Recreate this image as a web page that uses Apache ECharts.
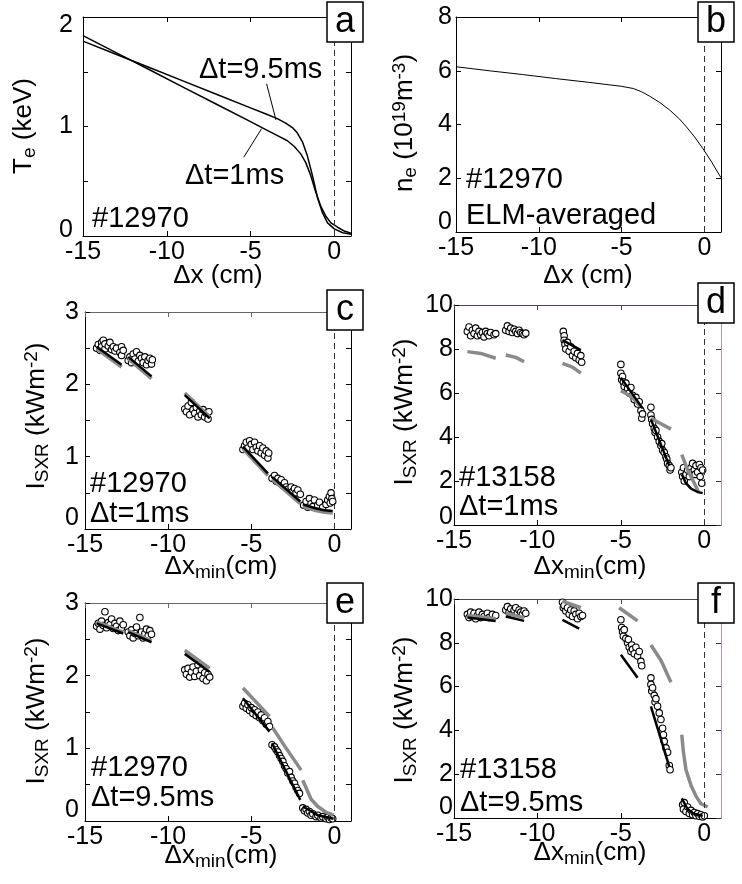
<!DOCTYPE html>
<html>
<head>
<meta charset="utf-8">
<script src="https://cdn.jsdelivr.net/npm/echarts@6/dist/echarts.min.js"></script>
<style>
html, body { margin: 0; padding: 0; background: #fff; }
#chart { width: 742px; height: 884px; }
</style>
</head>
<body>
<div id="chart"></div>
<script>
// tick labels
var xTickLabels = [-15, -10, -5, 0];
var yLabelsTe = [0, 1, 2];
var yLabelsNe = [0, 2, 4, 6, 8];
var yLabelsI3 = [0, 1, 2, 3];
var yLabelsI10 = [0, 2, 4, 6, 8, 10];

// panel a: Te profiles
var teX95 = [-15, -13, -11, -9, -7, -5, -4, -3.4, -2.9, -2.5, -2.2, -1.9, -1.6, -1.3, -1.0, -0.7, -0.4, 0, 0.5, 1];
var te95 = [1.78, 1.658, 1.536, 1.414, 1.292, 1.17, 1.109, 1.072, 1.03, 0.99, 0.94, 0.86, 0.73, 0.55, 0.35, 0.21, 0.12, 0.065, 0.03, 0.015];
var teX1 = [-15, -13, -11, -9, -7, -5, -4, -3.3, -2.8, -2.4, -2.0, -1.7, -1.4, -1.1, -0.8, -0.5, -0.2, 0.2, 0.6, 1.0];
var te1 = [1.83, 1.673, 1.516, 1.358, 1.201, 1.044, 0.965, 0.91, 0.87, 0.82, 0.75, 0.67, 0.55, 0.40, 0.27, 0.18, 0.12, 0.08, 0.045, 0.025];
var leader95 = [[-4.04, 1.39], [-3.48, 1.06]];
var leader1 = [[-5.4, 0.72], [-4.34, 0.98]];

// panel b: ne profile
var neX = [-15, -13, -11, -9, -7, -5, -4.3, -3.8, -3.3, -2.7, -2.1, -1.5, -1.1, -0.6, -0.1, 0.4, 0.9, 1.0];
var ne = [6.15, 6.00, 5.86, 5.71, 5.57, 5.42, 5.34, 5.22, 5.05, 4.82, 4.54, 4.20, 3.92, 3.54, 3.11, 2.64, 2.12, 2.02];

// panel c: #12970, dt=1ms
var c_pts = [
  [-14.3,2.50],[-14.2,2.55],[-14.1,2.47],[-14.0,2.58],[-14.0,2.52],[-13.9,2.61],[-13.8,2.49],[-13.8,2.56],[-13.6,2.53],[-13.5,2.58],[-13.4,2.48],[-13.3,2.52],[-13.2,2.46],[-13.1,2.50],[-12.9,2.44],[-12.8,2.52],[-12.8,2.40],[-12.7,2.47],
  [-12.4,2.33],[-12.3,2.38],[-12.2,2.30],[-12.1,2.42],[-12.0,2.35],[-11.9,2.45],[-11.8,2.32],[-11.7,2.40],[-11.6,2.36],[-11.5,2.30],[-11.4,2.38],[-11.3,2.27],[-11.2,2.33],[-11.1,2.36],[-11.0,2.28],[-10.95,2.34],
  [-9.0,1.66],[-8.9,1.62],[-8.8,1.70],[-8.7,1.58],[-8.6,1.75],[-8.5,1.65],[-8.4,1.60],[-8.3,1.68],[-8.2,1.55],[-8.1,1.63],[-8.0,1.58],[-7.9,1.65],[-7.8,1.55],[-7.7,1.60],[-7.6,1.52],[-7.55,1.62],
  [-5.5,1.10],[-5.4,1.15],[-5.3,1.20],[-5.2,1.12],[-5.1,1.22],[-5.0,1.17],[-4.9,1.10],[-4.8,1.20],[-4.7,1.13],[-4.6,1.08],[-4.5,1.15],[-4.4,1.05],[-4.3,1.12],[-4.2,1.02],[-4.1,1.08],[-4.0,0.98],[-3.95,1.05],
  [-3.75,0.70],[-3.6,0.74],[-3.5,0.66],[-3.4,0.70],[-3.3,0.64],[-3.2,0.68],[-3.1,0.60],[-3.0,0.64],[-2.9,0.58],[-2.8,0.55],[-2.6,0.58],[-2.5,0.52],[-2.4,0.56],[-2.3,0.50],[-2.2,0.54],[-2.05,0.48],
  [-1.85,0.33],[-1.7,0.38],[-1.6,0.30],[-1.5,0.42],[-1.4,0.35],[-1.3,0.31],[-1.2,0.40],[-1.0,0.33],[-0.9,0.37],[-0.7,0.30],[-0.5,0.34],[-0.4,0.40],[-0.3,0.45],[-0.25,0.36],[-0.2,0.50],[-0.15,0.42],[-0.1,0.38]
];
var c_black = [
  [[-14.3,2.52],[-12.8,2.27]],
  [[-12.4,2.38],[-11.0,2.11]],
  [[-9.0,1.85],[-7.5,1.53]],
  [[-5.5,1.14],[-4.0,0.77]],
  [[-3.75,0.72],[-2.05,0.38]],
  [[-1.9,0.34],[-1.2,0.29],[-0.6,0.26],[-0.1,0.25]]
];
var c_gray = [
  [[-14.3,2.49],[-12.8,2.24]],
  [[-12.4,2.35],[-11.0,2.08]],
  [[-9.0,1.88],[-7.5,1.55]],
  [[-5.5,1.11],[-4.0,0.74]],
  [[-3.75,0.69],[-2.05,0.35]],
  [[-1.9,0.31],[-1.2,0.26],[-0.6,0.23],[-0.1,0.22]]
];

// panel d: #13158, dt=1ms
var d_pts = [
  [-14.2,8.8],[-14.1,9.0],[-14.0,8.6],[-13.9,8.85],[-13.8,8.7],[-13.7,8.95],[-13.6,8.6],[-13.5,8.8],[-13.4,8.65],[-13.3,8.75],[-13.2,8.55],[-13.1,8.8],[-13.0,8.7],[-12.9,8.6],[-12.8,8.75],[-12.6,8.65],[-12.5,8.7],
  [-11.9,8.85],[-11.8,9.05],[-11.7,8.8],[-11.6,8.95],[-11.5,8.75],[-11.4,8.9],[-11.3,8.8],[-11.2,8.7],[-11.1,8.85],[-11.0,8.75],[-10.9,8.7],[-10.8,8.65],[-10.7,8.72],
  [-8.45,8.8],[-8.4,8.6],[-8.4,8.4],[-8.35,8.2],[-8.3,8.0],[-8.2,8.3],[-8.1,7.9],[-8.0,8.1],[-7.9,7.7],[-7.8,7.9],[-7.7,7.6],[-7.6,7.8],[-7.5,7.5],[-7.4,7.7],[-7.35,7.4],
  [-5.0,7.3],[-5.0,6.9],[-4.95,6.6],[-4.9,6.75],[-4.85,6.5],[-4.8,6.3],[-4.7,6.45],[-4.6,6.2],[-4.5,6.0],[-4.4,6.25],[-4.3,5.9],[-4.2,5.7],[-4.1,5.8],[-4.0,5.5],[-3.9,5.6],[-3.8,5.2],[-3.75,4.85],[-3.7,5.05],
  [-3.2,5.35],[-3.2,5.0],[-3.15,4.8],[-3.1,4.6],[-3.0,4.4],[-2.95,4.2],[-2.9,4.3],[-2.8,4.0],[-2.7,3.8],[-2.6,3.6],[-2.55,3.7],[-2.5,3.4],[-2.4,3.3],[-2.3,3.1],[-2.25,3.0],[-2.2,2.8],[-2.1,2.7],[-2.05,2.5],[-2.0,2.6],
  [-1.35,2.4],[-1.3,2.2],[-1.25,2.6],[-1.2,2.0],[-1.1,2.3],[-1.0,2.5],[-0.9,2.2],[-0.8,2.6],[-0.75,2.4],[-0.7,2.8],[-0.6,2.5],[-0.55,2.3],[-0.5,2.7],[-0.4,2.4],[-0.3,2.75],[-0.25,2.2],[-0.2,2.6],[-0.15,1.9],[-0.1,2.5]
];
var d_black = [
  [[-8.5,8.4],[-7.4,7.95]],
  [[-5.0,6.7],[-3.7,5.3]],
  [[-3.2,4.8],[-2.1,2.7]],
  [[-1.35,2.3],[-1.1,1.9],[-0.8,1.65],[-0.4,1.5],[-0.1,1.45]]
];
var d_gray = [
  [[-14.2,7.88],[-13.3,7.78],[-12.5,7.58]],
  [[-11.9,7.73],[-11.3,7.62],[-10.8,7.42]],
  [[-8.5,7.35],[-7.9,7.18],[-7.4,6.9]],
  [[-5.0,6.1],[-4.4,5.85],[-3.8,5.4]],
  [[-3.2,4.85],[-2.6,4.6],[-2.0,4.36]],
  [[-1.35,3.2],[-1.0,2.5],[-0.6,1.9],[-0.35,1.5]]
];

// panel e: #12970, dt=9.5ms
var e_pts = [
  [-14.3,2.68],[-14.2,2.72],[-14.1,2.64],[-14.0,2.75],[-13.9,2.69],[-13.8,2.88],[-13.7,2.66],[-13.6,2.73],[-13.5,2.70],[-13.4,2.78],[-13.3,2.65],[-13.2,2.72],[-13.1,2.68],[-13.0,2.62],[-12.9,2.75],[-12.8,2.66],[-12.7,2.70],
  [-12.4,2.60],[-12.3,2.55],[-12.2,2.63],[-12.1,2.52],[-12.0,2.58],[-11.9,2.67],[-11.8,2.55],[-11.7,2.80],[-11.6,2.60],[-11.5,2.52],[-11.4,2.58],[-11.3,2.64],[-11.2,2.55],[-11.1,2.62],[-11.0,2.57],
  [-9.0,2.08],[-8.9,2.02],[-8.8,2.10],[-8.7,1.98],[-8.6,2.05],[-8.5,2.12],[-8.4,1.99],[-8.3,2.06],[-8.2,2.15],[-8.1,2.00],[-8.0,2.08],[-7.9,1.96],[-7.8,2.04],[-7.7,1.93],[-7.6,2.02],[-7.5,1.98],
  [-5.5,1.58],[-5.4,1.62],[-5.3,1.55],[-5.2,1.60],[-5.1,1.52],[-5.0,1.56],[-4.9,1.48],[-4.8,1.53],[-4.7,1.45],[-4.6,1.50],[-4.5,1.42],[-4.4,1.46],[-4.3,1.38],[-4.2,1.42],[-4.1,1.33],[-4.0,1.37],[-3.9,1.30],
  [-3.75,1.05],[-3.6,1.02],[-3.5,0.98],[-3.4,0.95],[-3.3,0.90],[-3.2,0.86],[-3.1,0.82],[-3.0,0.76],[-2.9,0.72],[-2.8,0.66],[-2.7,0.68],[-2.6,0.60],[-2.5,0.55],[-2.4,0.52],[-2.3,0.46],[-2.2,0.42],[-2.1,0.38],
  [-1.9,0.18],[-1.8,0.14],[-1.7,0.16],[-1.6,0.11],[-1.5,0.13],[-1.4,0.08],[-1.3,0.10],[-1.1,0.06],[-1.0,0.08],[-0.8,0.04],[-0.7,0.06],[-0.5,0.03],[-0.4,0.05],[-0.3,0.02],[-0.2,0.04],[-0.1,0.03]
];
var e_black = [
  [[-14.3,2.72],[-12.7,2.58]],
  [[-12.4,2.60],[-11.0,2.46]],
  [[-9.0,2.30],[-7.5,2.05]],
  [[-5.5,1.69],[-3.9,1.23]],
  [[-3.75,1.07],[-2.05,0.29]],
  [[-1.9,0.20],[-1.0,0.08],[-0.05,0.03]]
];
var e_gray = [
  [[-14.3,2.74],[-12.7,2.60]],
  [[-12.4,2.62],[-11.0,2.48]],
  [[-9.0,2.35],[-7.5,2.10]],
  [[-5.5,1.83],[-3.9,1.44]],
  [[-3.7,1.28],[-2.9,1.0],[-2.0,0.70]],
  [[-1.9,0.56],[-1.4,0.30],[-1.0,0.20],[-0.5,0.12],[-0.05,0.08]]
];

// panel f: #13158, dt=9.5ms
var f_pts = [
  [-14.2,9.3],[-14.1,9.15],[-14.0,9.4],[-13.9,9.2],[-13.8,9.35],[-13.7,9.1],[-13.6,9.25],[-13.5,9.4],[-13.4,9.15],[-13.3,9.3],[-13.2,9.2],[-13.0,9.35],[-12.9,9.15],[-12.7,9.3],[-12.5,9.25],
  [-11.9,9.5],[-11.8,9.65],[-11.7,9.4],[-11.6,9.55],[-11.5,9.3],[-11.4,9.5],[-11.3,9.6],[-11.2,9.35],[-11.1,9.5],[-11.0,9.4],[-10.9,9.3],[-10.8,9.45],[-10.7,9.35],
  [-8.5,9.85],[-8.45,9.6],[-8.4,9.7],[-8.3,9.45],[-8.2,9.6],[-8.1,9.3],[-8.0,9.5],[-7.9,9.2],[-7.8,9.45],[-7.7,9.3],[-7.6,9.1],[-7.5,9.35],[-7.4,9.2],[-7.3,9.25],
  [-5.0,9.05],[-4.95,8.7],[-4.9,8.5],[-4.85,8.3],[-4.8,8.6],[-4.7,8.2],[-4.6,8.0],[-4.55,8.15],[-4.5,7.8],[-4.4,7.6],[-4.35,7.9],[-4.3,7.7],[-4.2,7.5],[-4.1,7.8],[-4.0,7.4],[-3.9,7.6],[-3.8,7.15],[-3.75,6.95],
  [-3.2,6.4],[-3.2,6.1],[-3.15,5.8],[-3.1,5.95],[-3.0,5.6],[-2.95,5.3],[-2.9,5.45],[-2.8,5.1],[-2.7,4.8],[-2.6,4.5],[-2.5,4.1],[-2.45,3.8],[-2.4,3.5],[-2.3,3.2],[-2.2,3.0],[-2.1,2.4],[-2.05,2.2],
  [-1.3,0.6],[-1.25,0.4],[-1.2,0.7],[-1.1,0.3],[-1.0,0.5],[-0.9,0.2],[-0.8,0.35],[-0.7,0.15],[-0.6,0.25],[-0.5,0.1],[-0.4,0.2],[-0.3,0.08],[-0.2,0.15],[-0.1,0.05],[0.0,0.1]
];
var f_black = [
  [[-14.2,9.15],[-12.5,9.0]],
  [[-11.9,9.2],[-10.8,9.0]],
  [[-8.5,9.05],[-7.5,8.65]],
  [[-5.0,7.45],[-4.0,6.4]],
  [[-3.2,5.1],[-2.1,2.35]],
  [[-1.35,0.9],[-1.0,0.4],[-0.6,0.18],[-0.1,0.1]]
];
var f_gray = [
  [[-14.2,9.25],[-12.5,9.1]],
  [[-11.9,9.35],[-10.8,9.15]],
  [[-8.5,9.9],[-7.4,9.6]],
  [[-5.1,9.6],[-4.0,9.0]],
  [[-3.2,7.9],[-2.6,7.2],[-2.0,6.2]],
  [[-1.35,3.8],[-1.25,3.0],[-1.1,2.2],[-0.8,1.5],[-0.5,1.0],[-0.2,0.65],[0.2,0.5]]
];

var FONT = '"Liberation Sans", Arial, Helvetica, sans-serif';

// layout of the six panels
var frames = [
  {left: 83, top: 17, width: 268, height: 219, ymax: 2, yint: 0.5, ylab: yLabelsTe, lm: 10, zs: 6, ts: 8, cTop: '#000', cRight: '#000', cRTick: '#000'},
  {left: 456, top: 17, width: 265, height: 215, ymax: 8, yint: 2, ylab: yLabelsNe, lm: 4, zs: 10, ts: 0, cTop: '#000', cRight: '#000', cRTick: '#000'},
  {left: 85, top: 312, width: 266, height: 217, ymax: 3, yint: 0.5, ylab: yLabelsI3, lm: 6, zs: 11, ts: 0, cTop: '#666', cRight: '#000', cRTick: '#000'},
  {left: 454, top: 305, width: 267, height: 220, ymax: 10, yint: 2, ylab: yLabelsI10, lm: 1, zs: 8, ts: 0, cTop: '#4d4060', cRight: '#a898bb', cRTick: '#3d2d55'},
  {left: 85, top: 603, width: 266, height: 218, ymax: 3, yint: 0.5, ylab: yLabelsI3, lm: 6, zs: 11, ts: 0, cTop: '#666', cRight: '#000', cRTick: '#000'},
  {left: 454, top: 599, width: 267, height: 219, ymax: 10, yint: 2, ylab: yLabelsI10, lm: 1, zs: 11, ts: 0, cTop: '#4d4060', cRight: '#a898bb', cRTick: '#3d2d55'}
];

var chart = echarts.init(document.getElementById('chart'));

var grids = [], xAxes = [], yAxes = [], series = [], graphics = [];

frames.forEach(function (f, i) {
  grids.push({left: f.left, top: f.top, width: f.width, height: f.height, containLabel: false, outerBoundsMode: 'none'});
  xAxes.push({
    gridIndex: i, type: 'value', position: 'bottom', min: -15, max: 1, interval: 5,
    axisLine: {show: true, onZero: false, lineStyle: {color: '#000', width: 1}},
    axisTick: {show: true, inside: true, length: 5, lineStyle: {color: '#000'}},
    axisLabel: {
      show: true, margin: 4, color: '#000', fontSize: 25, fontFamily: FONT,
      showMinLabel: true, showMaxLabel: false,
      formatter: function (v) { return xTickLabels.indexOf(v) >= 0 ? String(v) : ''; }
    },
    splitLine: {show: false}
  });
  xAxes.push({
    gridIndex: i, type: 'value', position: 'top', min: -15, max: 1, interval: 5,
    axisLine: {show: true, onZero: false, lineStyle: {color: f.cTop, width: 1}},
    axisTick: {show: true, inside: true, length: 5, lineStyle: {color: f.cTop}},
    axisLabel: {show: false}, splitLine: {show: false}
  });
  var rich = {
    z: {fontSize: 25, fontFamily: FONT, color: '#000', padding: [0, 0, 2 * f.zs, 0]},
    t: {fontSize: 25, fontFamily: FONT, color: '#000', padding: [2 * f.ts, 0, 0, 0]}
  };
  yAxes.push({
    gridIndex: i, type: 'value', position: 'left', min: 0, max: f.ymax, interval: f.yint,
    axisLine: {show: true, onZero: false, lineStyle: {color: '#000', width: 1}},
    axisTick: {show: true, inside: true, length: 5, lineStyle: {color: '#000'}},
    axisLabel: {
      show: true, margin: f.lm, color: '#000', fontSize: 25, fontFamily: FONT,
      showMinLabel: true, showMaxLabel: true, rich: rich,
      formatter: function (v) {
        if (f.ylab.indexOf(v) < 0) return '';
        if (v === 0) return '{z|0}';
        if (v === f.ymax && f.ts) return '{t|' + v + '}';
        return String(v);
      }
    },
    splitLine: {show: false}
  });
  yAxes.push({
    gridIndex: i, type: 'value', position: 'right', min: 0, max: f.ymax, interval: f.yint,
    axisLine: {show: true, onZero: false, lineStyle: {color: f.cRight, width: 1}},
    axisTick: {show: true, inside: true, length: 5, lineStyle: {color: f.cRTick}},
    axisLabel: {show: false}, splitLine: {show: false}
  });
});

var zeroLine = {
  silent: true, symbol: ['none', 'none'], animation: false,
  label: {show: false},
  lineStyle: {type: [6, 4], color: '#333', width: 1},
  data: [{xAxis: 0}]
};

function zip(xs, ys) {
  return xs.map(function (x, k) { return [x, ys[k]]; });
}

function curve(i, data, color, width, z) {
  return {
    type: 'line', xAxisIndex: 2 * i, yAxisIndex: 2 * i, data: data,
    showSymbol: false, symbol: 'none', smooth: false,
    lineStyle: {color: color, width: width, cap: 'butt', join: 'round'}, z: z, silent: true, animation: false
  };
}

// a
var sa = curve(0, zip(teX95, te95), '#000', 1.5, 3);
sa.markLine = zeroLine;
series.push(sa);
series.push(curve(0, zip(teX1, te1), '#000', 1.5, 3));
series.push(curve(0, leader95, '#000', 1, 3));
series.push(curve(0, leader1, '#000', 1, 3));

// b
var sb = curve(1, zip(neX, ne), '#000', 1, 3);
sb.markLine = zeroLine;
series.push(sb);

// c - f
[[c_pts, c_black, c_gray], [d_pts, d_black, d_gray], [e_pts, e_black, e_gray], [f_pts, f_black, f_gray]]
  .forEach(function (p, k) {
    var i = k + 2;
    series.push({
      type: 'scatter', xAxisIndex: 2 * i, yAxisIndex: 2 * i, data: p[0],
      symbol: 'circle', symbolSize: 6.5,
      itemStyle: {color: '#fff', borderColor: '#000', borderWidth: 1.1, opacity: 1},
      z: 2, silent: true, animation: false, markLine: zeroLine
    });
    p[2].forEach(function (seg) { series.push(curve(i, seg, '#8a8a8a', 3.5, 3)); });
    p[1].forEach(function (seg) { series.push(curve(i, seg, '#000', 2.5, 4)); });
  });

// text and letter boxes
var axisRich = {
  b: {fontSize: 26, fontFamily: FONT, lineHeight: 30, verticalAlign: 'middle', fill: '#000'},
  sub: {fontSize: 19, fontFamily: FONT, lineHeight: 14, verticalAlign: 'bottom', fill: '#000'},
  sup: {fontSize: 19, fontFamily: FONT, lineHeight: 14, verticalAlign: 'top', fill: '#000'}
};

function label(x, y, text, rot) {
  graphics.push({
    type: 'text', x: x, y: y, rotation: rot || 0, z: 50, silent: true,
    style: {text: text, rich: axisRich, fontSize: 26, fontFamily: FONT, fill: '#000',
      textAlign: 'center', textVerticalAlign: 'middle'}
  });
}

function note(x, y, text) {
  graphics.push({
    type: 'text', x: x, y: y, z: 50, silent: true,
    style: {text: text, fontSize: 29, fontFamily: FONT, fill: '#000',
      textAlign: 'left', textVerticalAlign: 'middle'}
  });
}

var R = Math.PI / 2;
label(24, 126, '{b|T}{sub|e}{b| (keV)}', R);
label(405, 123, '{b|n}{sub|e}{b| (10}{sup|19}{b|m}{sup|-3}{b|)}', R);
label(37, 416, '{b|I}{sub|SXR}{b| (kWm}{sup|-2}{b|)}', R);
label(405, 412, '{b|I}{sub|SXR}{b| (kWm}{sup|-2}{b|)}', R);
label(37, 711, '{b|I}{sub|SXR}{b| (kWm}{sup|-2}{b|)}', R);
label(405, 710, '{b|I}{sub|SXR}{b| (kWm}{sup|-2}{b|)}', R);

label(218, 276, '{b|\u0394x (cm)}');
label(588, 276, '{b|\u0394x (cm)}');
label(221, 567, '{b|\u0394x}{sub|min}{b|(cm)}');
label(590, 567, '{b|\u0394x}{sub|min}{b|(cm)}');
label(221, 856, '{b|\u0394x}{sub|min}{b|(cm)}');
label(590, 853, '{b|\u0394x}{sub|min}{b|(cm)}');

note(199, 70, '\u0394t=9.5ms');
note(185, 176, '\u0394t=1ms');
note(92, 219, '#12970');
note(466, 180, '#12970');
note(466, 216, 'ELM-averaged');
note(90, 484, '#12970');
note(90, 514, '\u0394t=1ms');
note(459, 478, '#13158');
note(459, 507, '\u0394t=1ms');
note(91, 768, '#12970');
note(91, 798, '\u0394t=9.5ms');
note(460, 770, '#13158');
note(460, 803, '\u0394t=9.5ms');

var letterBoxes = [
  {l: 'a', x: 327, y: 2}, {l: 'b', x: 698, y: 2},
  {l: 'c', x: 327, y: 290}, {l: 'd', x: 698, y: 283},
  {l: 'e', x: 327, y: 583}, {l: 'f', x: 698, y: 583}
];
letterBoxes.forEach(function (b) {
  graphics.push({
    type: 'rect', z: 60, silent: true,
    shape: {x: b.x, y: b.y, width: 36, height: 40},
    style: {fill: '#fff', stroke: '#000', lineWidth: 1.5}
  });
  graphics.push({
    type: 'text', x: b.x + 18, y: b.y + 20, z: 61, silent: true,
    style: {text: b.l, fontSize: 36, fontFamily: FONT, fill: '#000',
      textAlign: 'center', textVerticalAlign: 'middle'}
  });
});

chart.setOption({
  animation: false,
  backgroundColor: '#fff',
  textStyle: {fontFamily: FONT},
  grid: grids,
  xAxis: xAxes,
  yAxis: yAxes,
  series: series,
  graphic: {elements: graphics}
});
</script>
</body>
</html>
